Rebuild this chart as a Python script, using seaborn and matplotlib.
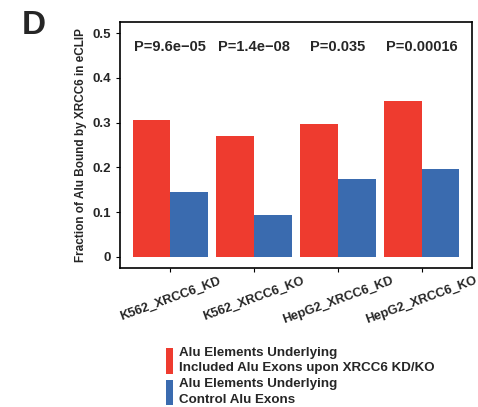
import matplotlib
matplotlib.use("Agg")
import matplotlib.pyplot as plt
import seaborn as sns
import pandas as pd
from matplotlib.patches import Patch

categories = ["K562_XRCC6_KD", "K562_XRCC6_KO", "HepG2_XRCC6_KD", "HepG2_XRCC6_KO"]
included = [0.306, 0.270, 0.297, 0.348]
control = [0.145, 0.093, 0.174, 0.196]
pvalues = ["P=9.6e\u221205", "P=1.4e\u221208", "P=0.035", "P=0.00016"]
groups = ["Alu Elements Underlying\nIncluded Alu Exons upon XRCC6 KD/KO",
          "Alu Elements Underlying\nControl Alu Exons"]
colors = ["#EE3B2F", "#3A6BAF"]

df = pd.DataFrame({
    "cat": categories * 2,
    "val": included + control,
    "grp": [groups[0]] * 4 + [groups[1]] * 4,
})

sns.set_style("white")
plt.rcParams["font.family"] = ["Liberation Sans", "DejaVu Sans"]
plt.rcParams["font.weight"] = "bold"

fig = plt.figure(figsize=(4.78, 4.07), dpi=100)
ax = fig.add_axes([120 / 478, 1 - 268 / 407, (472 - 120) / 478, (268 - 22) / 407])
sns.barplot(data=df, x="cat", y="val", hue="grp", order=categories, hue_order=groups,
            palette=colors, width=0.9, saturation=1, ax=ax, legend=False)
for p in ax.patches:
    p.set_edgecolor("none")
ax.set_xlim(-0.6, 3.6)
ax.set_ylim(-0.025, 0.525)
ax.set_yticks([0, 0.1, 0.2, 0.3, 0.4, 0.5])
ax.set_yticklabels(["0", "0.1", "0.2", "0.3", "0.4", "0.5"], fontsize=9.5, fontweight="bold")
ax.set_xticks(range(4))
ax.set_xticklabels(categories, rotation=20, ha="center", va="top", rotation_mode="default",
                   fontsize=9.2, fontweight="bold")
ax.set_xlabel("")
ax.set_ylabel("Fraction of Alu Bound by XRCC6 in eCLIP", fontsize=8.5, fontweight="bold")
for s in ax.spines.values():
    s.set_visible(True)
    s.set_color("black")
    s.set_linewidth(1.2)
ax.tick_params(axis="both", length=3, width=0.8, color="black", left=True, bottom=True)
ax.tick_params(axis="x", pad=2)

for i, p in enumerate(pvalues):
    ax.text(i, 0.469, p, ha="center", va="center", fontsize=10.5, fontweight="heavy")

fig.text(22 / 478, 1 - 26 / 407, "D", fontsize=24, fontweight="bold", va="center", ha="left")

handles = [Patch(facecolor=c, edgecolor="none") for c in colors]
leg = fig.legend(handles, groups, loc="upper left", bbox_to_anchor=(161 / 478, 1 - 342 / 407),
                 frameon=False, handlelength=0.5, handleheight=2.6, handletextpad=0.45,
                 labelspacing=0.3, prop={"size": 9.6, "weight": "bold"}, borderaxespad=0)
for t in leg.get_texts():
    t.set_linespacing(1.35)

fig.savefig("out.png", dpi=100)
